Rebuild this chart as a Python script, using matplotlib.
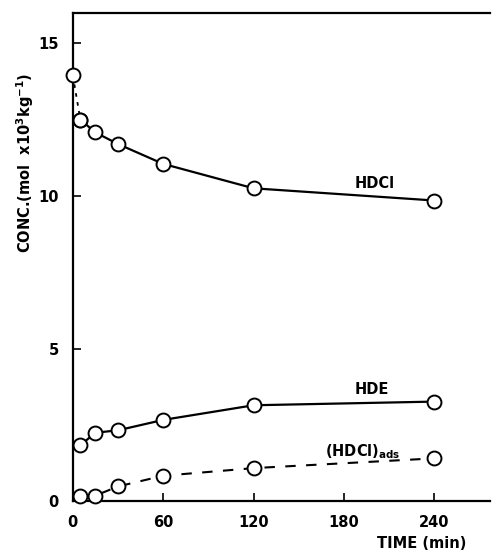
import matplotlib
matplotlib.use("Agg")
import matplotlib.pyplot as plt

plt.rcParams['font.family'] = ['DejaVu Sans']
plt.rcParams['font.weight'] = 'bold'
plt.rcParams['mathtext.default'] = 'bf'

# data (time in min, conc in mol x10^3 kg^-1)
t_hdcl0 = [0, 5]
hdcl0 = [13.95, 12.5]
t = [5, 15, 30, 60, 120, 240]
hdcl = [12.5, 12.08, 11.7, 11.05, 10.25, 9.85]
hde = [1.83, 2.24, 2.32, 2.66, 3.14, 3.26]
hdcl_ads = [0.18, 0.18, 0.48, 0.83, 1.08, 1.4]

xticks = [0, 60, 120, 180, 240]
yticks = [0, 5, 10, 15]


def main():
    fig = plt.figure(figsize=(4.92, 5.58), dpi=100)
    ax = fig.add_axes([0.148, 0.102, 0.848, 0.875])

    mk = dict(marker='o', markersize=10, markerfacecolor='white',
              markeredgecolor='black', markeredgewidth=1.4, color='black',
              clip_on=False, zorder=3)

    ax.plot(t_hdcl0, hdcl0, linestyle=(0, (2, 3)), lw=1.3, **mk)
    ax.plot(t, hdcl, linestyle='-', lw=1.6, **mk)
    ax.plot(t, hde, linestyle='-', lw=1.6, **mk)
    ax.plot(t, hdcl_ads, linestyle=(0, (5, 5)), lw=1.5, **mk)

    fs = 10.5
    ax.text(200.7, 10.4, 'HDCl', ha='center', va='center', fontsize=fs)
    ax.text(198.7, 3.66, 'HDE', ha='center', va='center', fontsize=fs)
    ax.text(192.7, 1.63, r'(HDCl)$_{ads}$', ha='center', va='center', fontsize=fs)

    ax.set_xlim(0, 277)
    ax.set_ylim(0, 16)
    ax.set_xticks(xticks)
    ax.set_yticks(yticks)
    ax.tick_params(direction='in', length=6, width=1.2, pad=10, labelsize=fs)
    for lab in ax.get_xticklabels() + ax.get_yticklabels():
        lab.set_fontweight('bold')
    for s in ['left', 'bottom', 'top']:
        ax.spines[s].set_linewidth(1.6)
    ax.spines['right'].set_visible(False)

    fig.text(422 / 492, 1 - 544 / 558, 'TIME (min)', ha='center', va='center',
             fontsize=fs)
    fig.text(25 / 492, 1 - 163 / 558, r'CONC.(mol  x10$^{3}$kg$^{-1}$)', rotation=90,
             ha='center', va='center', fontsize=fs)

    fig.savefig('out.png', dpi=100)


if __name__ == "__main__":
    main()
